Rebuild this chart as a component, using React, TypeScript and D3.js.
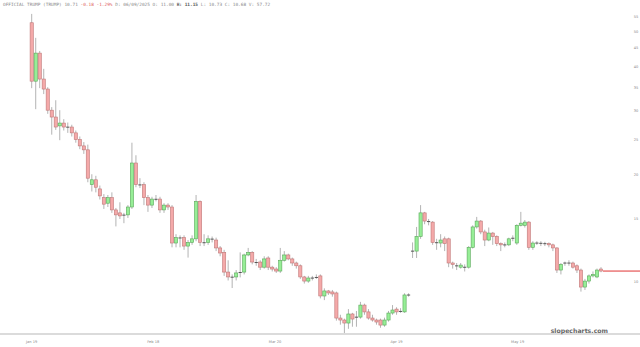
import React from "react";
import * as d3 from "d3";

const opens = [53.0,36.4,43.6,36.9,34.6,30.2,28.9,27.3,27.8,27.1,27.1,26.1,
25.0,24.0,23.4,18.7,19.3,
18.2,17.2,16.6,17.2,15.9,15.6,15.4,15.4,16.2,21.5,18.7,18.7,17.2,16.4,17.05,17.05,15.9,16.4,16.2,12.85,13.3,13.3,12.6,12.9,13.2,16.8,12.9,12.9,13.2,13.1,12.45,
12.1,10.66,10.33,10.33,10.6,10.66,11.9,12.1,11.37,11.37,11.0,11.67,11.0,10.87,10.73,11.5,11.9,11.6,11.3,11.1,10.33,10.06,10.26,10.26,10.4,9.14,9.44,9.38,9.32,7.93,7.83,7.68,8.14,7.98,7.98,8.62,8.25,7.93,7.83,7.83,7.58,7.83,8.19,8.4,8.25,8.25,9.2,
12.2,12.2,13.4,15.6,14.8,14.7,12.9,12.85,13.2,13.2,11.3,11.1,11.0,11.0,11.0,12.5,14.25,14.8,13.8,13.1,13.7,13.4,12.8,12.7,12.7,13.2,12.85,14.4,14.4,14.7,12.5,12.85,12.85,12.8,12.8,12.7,12.45,10.8,11.3,11.3,11.3,11.1,10.8,9.68,10.06,10.4,10.33,10.87];

const closes = [36.4,43.6,36.9,34.6,30.2,28.9,27.1,27.8,27.1,27.05,26.1,25.0,
24.0,23.4,19.5,19.3,18.4,
17.4,16.5,17.2,15.9,15.4,15.3,15.35,16.2,21.5,18.7,18.65,17.2,16.4,17.05,17.0,15.9,16.4,16.2,12.85,13.3,13.25,12.6,12.9,13.2,16.8,12.9,12.85,13.2,13.15,12.45,12.05,
10.66,10.33,10.3,10.6,10.66,11.9,12.1,11.37,11.3,11.0,11.6,11.0,10.87,10.73,11.5,11.9,11.6,11.3,11.1,10.33,10.06,10.26,10.25,10.33,9.14,9.44,9.32,9.26,7.93,7.83,7.68,8.14,7.88,7.97,8.62,8.25,7.93,7.83,7.73,7.58,7.83,8.19,8.35,8.25,8.3,9.2,9.19,
12.19,13.4,15.6,14.8,14.7,12.9,12.85,13.1,12.8,11.3,11.2,11.09,11.15,10.99,12.5,14.25,14.8,13.8,13.1,13.7,13.4,12.8,12.7,12.69,13.2,13.3,14.4,14.6,14.7,12.5,12.85,12.84,12.8,12.79,12.7,12.45,10.8,11.2,11.29,11.29,11.0,10.8,9.68,10.06,10.4,10.5,10.8,10.73];

const highs = [56.1,48.1,44.2,39.4,35.0,30.8,32.2,30.2,28.5,27.9,27.5,26.5,
25.5,24.6,24.2,20.0,19.8,
18.6,17.6,17.5,17.8,16.1,16.7,15.6,16.4,24.5,22.6,19.5,19.0,17.5,17.3,17.5,17.3,16.6,16.6,16.4,13.6,13.5,13.5,13.1,13.5,17.5,16.9,13.6,13.5,13.4,13.3,12.6,
12.3,11.5,10.5,10.8,12.1,12.0,12.45,12.2,11.6,11.5,11.8,11.8,11.1,11.0,12.45,12.2,12.0,11.7,11.4,11.2,10.4,10.4,10.4,10.5,10.5,9.6,9.5,9.5,9.4,8.1,7.9,8.4,8.2,8.3,8.8,8.7,8.4,8.1,7.9,7.9,7.95,8.3,8.62,8.5,8.45,9.3,9.3,
12.9,14.25,16.4,15.7,15.0,14.8,13.2,13.6,13.4,13.3,11.4,11.3,11.3,11.2,12.6,14.4,15.2,14.9,14.0,14.2,13.8,13.5,12.9,12.9,13.3,13.5,14.5,15.7,14.9,14.8,13.0,13.0,13.0,12.95,12.9,12.8,12.5,11.3,11.4,11.5,11.4,11.2,10.9,10.2,10.5,10.7,10.9,11.0];

const lows = [34.8,30.4,34.8,33.5,29.5,25.8,26.6,24.9,26.5,26.1,25.5,24.5,
23.5,22.8,19.0,17.9,17.8,
17.0,16.0,16.2,15.6,14.3,15.0,14.6,15.1,16.0,18.4,18.3,16.4,15.7,16.1,16.8,15.6,15.6,15.9,12.5,12.5,12.5,12.3,11.7,12.7,13.0,12.6,12.6,12.7,12.9,12.2,11.8,
10.4,10.1,9.62,10.1,10.3,10.5,11.8,11.2,11.1,10.8,10.9,10.8,10.7,10.6,10.6,11.4,11.5,11.1,10.9,10.2,9.9,9.95,10.1,10.2,9.0,8.9,9.2,9.1,7.8,7.6,7.2,7.4,7.5,7.5,7.9,8.1,7.85,7.75,7.6,7.45,7.5,7.75,8.1,8.1,8.2,8.2,9.1,
11.67,11.67,13.2,14.5,14.4,12.7,12.3,12.5,12.2,11.0,10.9,10.8,10.9,10.7,10.9,12.4,14.1,13.6,12.6,13.0,12.7,12.6,12.2,12.5,12.6,13.0,12.7,14.3,14.2,12.3,12.3,12.7,12.6,12.6,12.5,12.2,10.6,10.5,11.1,11.1,10.9,10.6,9.4,9.5,9.9,10.3,10.25,10.65];

const dateLabels = ["Jan 19", "Feb 18", "Mar 20", "Apr 19", "May 19"];
const dateLabelIndex = [0, 30.3, 60.7, 91, 121.2];
const priceTicks = [10, 15, 20, 25, 30, 35, 40, 45, 50, 55];

const headName = "OFFICIAL TRUMP (TRUMP) 10.71 ";
const headChange = "-0.18 -1.29%";
const headDate = " D: 06/09/2025 O: 11.00 ";
const headHigh = "H: 11.15";
const headRest = " L: 10.73 C: 10.68 V: 57.72";

const W = 640;
const H = 347;

export default function App() {
  const n = closes.length;
  const x = d3.scaleLinear().domain([0, n - 1]).range([31.7, 601]);
  const y = d3.scaleLog().domain([10, 55]).range([282, 17]);
  const bw = 3.2;
  const lastClose = closes[n - 1];

  return (
    <svg width={W} height={H} style={{ position: "fixed", left: 0, top: 0, background: "#fff" }}
      fontFamily="DejaVu Sans, sans-serif">
      <rect x={0} y={0} width={W} height={H} fill="#fff" />
      <text x={3} y={5.5} fontSize={4.45} fontFamily="DejaVu Sans Mono, monospace" fill="#8a8a8a">
        <tspan>{headName}</tspan>
        <tspan fill="#e06060">{headChange}</tspan>
        <tspan>{headDate}</tspan>
        <tspan fill="#555" fontWeight="bold">{headHigh}</tspan>
        <tspan>{headRest}</tspan>
      </text>

      {opens.map((o, i) => {
        const c = closes[i];
        const cx = x(i);
        const up = c >= o;
        const yTop = y(Math.max(o, c));
        const yBot = y(Math.min(o, c));
        const hgt = yBot - yTop;
        return (
          <g key={i}>
            <line x1={cx} x2={cx} y1={y(highs[i])} y2={y(lows[i])} stroke="#a0a0a0" strokeWidth={0.8} />
            {hgt < 1.2 ? (
              <line x1={cx - bw / 2} x2={cx + bw / 2} y1={(yTop + yBot) / 2} y2={(yTop + yBot) / 2}
                stroke="#555" strokeWidth={1} />
            ) : (
              <rect x={cx - bw / 2} y={yTop} width={bw} height={hgt}
                fill={up ? "#96ee96" : "#f4a9a9"} stroke={up ? "#5aa85a" : "#c07878"} strokeWidth={0.6} />
            )}
          </g>
        );
      })}

      <line x1={x(n - 1) + 2} x2={W} y1={y(lastClose)} y2={y(lastClose)} stroke="#e03434" strokeWidth={1} />

      {priceTicks.map((t) => (
        <text key={t} x={636} y={y(t)} dy="0.35em" fontSize={3.6} fill="#888" textAnchor="middle">{t}</text>
      ))}

      <line x1={0} x2={W} y1={334} y2={334} stroke="#cfcfcf" strokeWidth={1.5} />
      {dateLabels.map((d, i) => (
        <text key={d} x={x(dateLabelIndex[i])} y={343} fontSize={3.6} fill="#888" textAnchor="middle">{d}</text>
      ))}

      <text x={608} y={333} fontSize={6.2} fontWeight="bold" fill="#666" textAnchor="end">slopecharts.com</text>
    </svg>
  );
}
